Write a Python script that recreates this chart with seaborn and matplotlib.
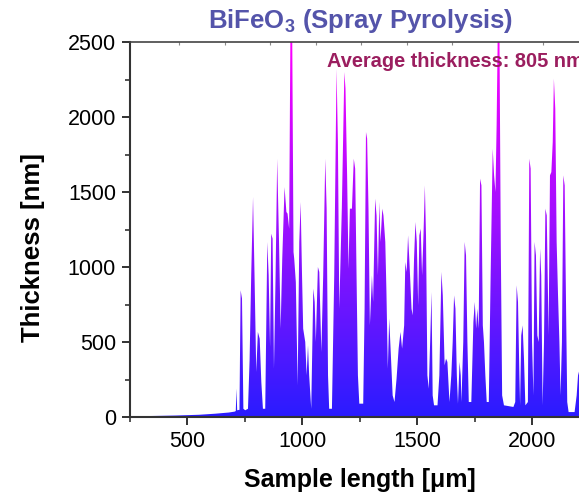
import numpy as np
import matplotlib
matplotlib.use("Agg")
import matplotlib.pyplot as plt
import matplotlib.ticker as mticker
import seaborn as sns

# ─────────────────────────────────────────────────────────────────
# DATA
# ─────────────────────────────────────────────────────────────────
position_um = [
    250, 350, 450, 550, 620, 680, 705, 710, 713, 716, 726, 731, 737, 743, 751,
    763, 770, 777, 785, 792, 799, 806, 814, 821, 828, 838, 847, 853, 859, 864,
    870, 876, 883, 890, 898, 905, 912, 922, 930, 935, 942, 948, 955, 961, 964,
    971, 979, 986, 992, 998, 1003, 1012, 1018, 1024, 1029, 1038, 1047, 1053, 1058, 1067,
    1073, 1082, 1090, 1099, 1105, 1111, 1116, 1128, 1138, 1148, 1154, 1160, 1171, 1182, 1187,
    1194, 1200, 1206, 1215, 1223, 1229, 1235, 1241, 1247, 1264, 1270, 1276, 1281, 1287, 1293,
    1302, 1307, 1316, 1322, 1328, 1334, 1339, 1347, 1352, 1360, 1365, 1371, 1377, 1383, 1392,
    1400, 1409, 1418, 1426, 1433, 1442, 1447, 1453, 1459, 1465, 1474, 1479, 1485, 1491, 1497,
    1503, 1508, 1514, 1520, 1526, 1532, 1537, 1543, 1549, 1555, 1561, 1566, 1572, 1587, 1595,
    1604, 1610, 1618, 1624, 1630, 1639, 1647, 1653, 1659, 1665, 1671, 1676, 1683, 1688, 1691,
    1699, 1705, 1711, 1717, 1723, 1734, 1743, 1749, 1755, 1760, 1766, 1772, 1778, 1784, 1789,
    1795, 1801, 1810, 1818, 1827, 1833, 1839, 1844, 1850, 1856, 1862, 1868, 1876, 1917, 1925,
    1931, 1937, 1943, 1946, 1951, 1957, 1963, 1969, 1980, 1986, 1992, 1998, 2004, 2009, 2015,
    2021, 2027, 2033, 2038, 2044, 2050, 2056, 2062, 2070, 2076, 2082, 2088, 2093, 2099, 2105,
    2111, 2117, 2122, 2128, 2134, 2140, 2146, 2151, 2157, 2183, 2192, 2198, 2210, 2250,
]
thickness_nm = [
    5, 7, 10, 15, 22, 30, 36, 40, 190, 45, 48, 845, 790, 55, 45,
    55, 378, 944, 1467, 900, 300, 567, 522, 233, 55, 55, 1167, 944, 467, 1222,
    1189, 322, 944, 1722, 1167, 589, 1056, 1533, 1367, 1356, 1256, 2700, 2650, 1100, 1056,
    900, 211, 1167, 1433, 944, 589, 500, 278, 478, 278, 55, 856, 767, 500, 1000,
    967, 433, 944, 1722, 1389, 278, 55, 55, 944, 2322, 1833, 722, 1389, 2300, 2189,
    1611, 989, 1389, 1389, 1722, 1656, 944, 278, 89, 89, 722, 1900, 1856, 1389, 611,
    944, 767, 1456, 1344, 944, 1433, 1167, 1389, 1344, 1167, 833, 322, 656, 456, 144,
    100, 256, 456, 567, 456, 611, 1033, 967, 1211, 1033, 722, 678, 1056, 1300, 1167,
    744, 1211, 1256, 944, 1211, 1544, 1211, 278, 189, 500, 833, 144, 78, 78, 278,
    967, 811, 344, 389, 367, 100, 278, 500, 811, 722, 278, 89, 367, 278, 100,
    500, 1167, 1078, 500, 100, 100, 633, 767, 589, 722, 589, 1589, 1544, 611, 500,
    278, 100, 100, 944, 1789, 1611, 1500, 1944, 2700, 2650, 1167, 144, 78, 67, 100,
    878, 767, 278, 78, 544, 611, 389, 78, 100, 1722, 1656, 500, 144, 1167, 1078,
    544, 500, 1122, 944, 78, 500, 1389, 1344, 544, 1611, 1633, 1833, 2256, 2056, 1167,
    811, 500, 144, 500, 1611, 1544, 722, 100, 33, 33, 144, 278, 350, 300,
]

TITLE      = r"BiFeO$_\mathbf{3}$ (Spray Pyrolysis)"
AVG_LABEL  = "Average thickness: 805 nm"
X_LABEL    = "Sample length [μm]"
Y_LABEL    = "Thickness [nm]"

# ─────────────────────────────────────────────────────────────────
# STYLE
# ─────────────────────────────────────────────────────────────────
sns.set_theme(style="ticks")
plt.rcParams["font.family"] = ["Liberation Sans", "DejaVu Sans"]
plt.rcParams["mathtext.fontset"] = "custom"
plt.rcParams["mathtext.rm"] = "Liberation Sans"
plt.rcParams["mathtext.bf"] = "Liberation Sans:bold"

cmap = sns.blend_palette(["#2a1cff", "#9a10ff", "#ff00ff"], as_cmap=True)

fig = plt.figure(figsize=(5.79, 4.99), dpi=100)
ax = fig.add_axes([0.2245, 0.1643, 0.7945, 0.7515])

x = np.array(position_um)
y = np.array(thickness_nm)

# gradient fill clipped to the profile
poly = ax.fill_between(x, 0, y, facecolor="none", edgecolor="none")
grad = np.linspace(0, 1, 256).reshape(-1, 1)
img = ax.imshow(grad, cmap=cmap, origin="lower", aspect="auto",
                extent=[250, 2250, 0, 2500], zorder=1)
img.set_clip_path(poly.get_paths()[0], transform=ax.transData)

ax.set_xlim(250, 2250)
ax.set_ylim(0, 2500)

ax.xaxis.set_major_locator(mticker.MultipleLocator(500))
ax.xaxis.set_minor_locator(mticker.MultipleLocator(250))
ax.yaxis.set_major_locator(mticker.MultipleLocator(500))
ax.yaxis.set_minor_locator(mticker.MultipleLocator(250))

ax.tick_params(which="major", direction="out", length=6, width=1.3,
               color="#222222", labelsize=15.5, labelcolor="black", pad=4)
ax.tick_params(which="minor", direction="out", length=3.5, width=1.1, color="#222222")

for side in ["left", "bottom"]:
    ax.spines[side].set_linewidth(1.5)
    ax.spines[side].set_color("#333333")
ax.spines["top"].set_linewidth(1.2)
ax.spines["top"].set_color("#444444")
ax.spines["right"].set_visible(False)

top = ax.secondary_xaxis("top")
top.set_xticks(np.arange(463, 2250, 198))
top.tick_params(direction="in", length=2.5, width=0.8, color="#888888", labeltop=False)
top.spines["top"].set_visible(False)

ax.set_xlabel(X_LABEL, fontsize=18, fontweight="bold", color="black")
ax.set_ylabel(Y_LABEL, fontsize=18.5, fontweight="bold", color="black")
ax.xaxis.set_label_coords(0.5, -0.137)
ax.yaxis.set_label_coords(-0.185, 0.452)

fig.text(0.622, 0.958, TITLE, ha="center", va="center", fontsize=18.5,
         fontweight="bold", color="#5454aa")
ax.text(1107, 2370, AVG_LABEL, ha="left", va="center", fontsize=14.4,
        fontweight="bold", color="#9b1e5f", zorder=5)

fig.savefig("out.png", dpi=100)
